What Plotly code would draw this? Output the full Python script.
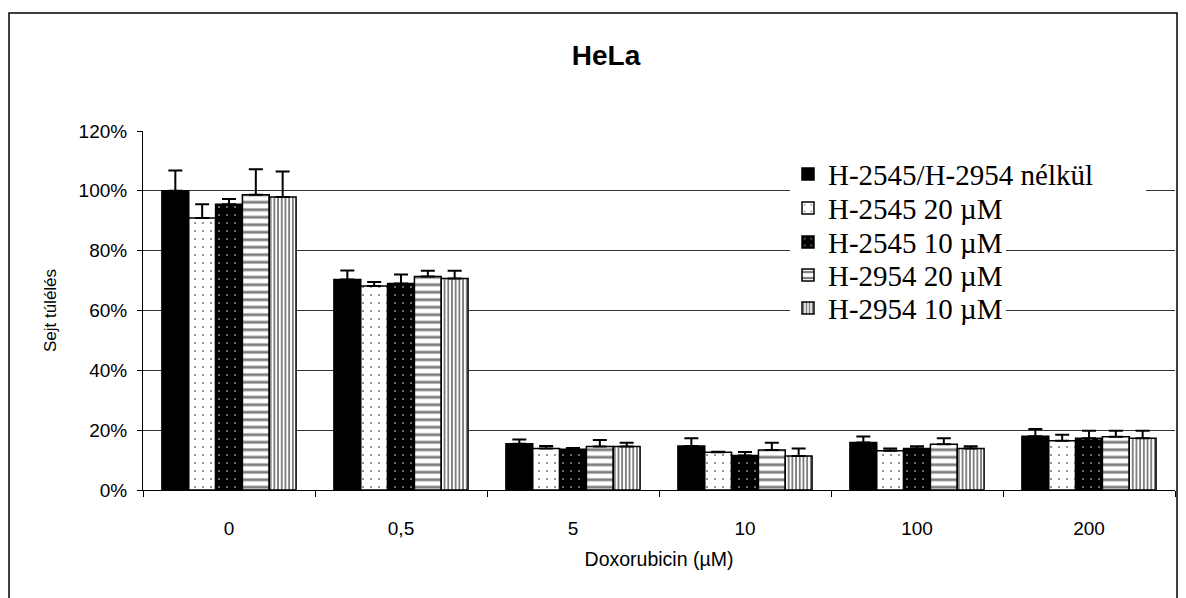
import plotly.graph_objects as go

categories = ["0", "0,5", "5", "10", "100", "200"]

series_names = [
    "H-2545/H-2954 nélkül",
    "H-2545 20 µM",
    "H-2545 10 µM",
    "H-2954 20 µM",
    "H-2954 10 µM",
]

s_none = [100.0, 70.4, 15.5, 14.7, 15.9, 18.0]
s_2545_20 = [90.9, 68.2, 13.9, 12.6, 13.1, 16.5]
s_2545_10 = [95.5, 69.0, 13.6, 11.5, 13.9, 17.3]
s_2954_20 = [98.7, 71.4, 14.5, 13.4, 15.3, 17.8]
s_2954_10 = [97.9, 70.7, 14.5, 11.4, 13.9, 17.3]

e_none = [6.8, 3.0, 1.4, 2.6, 2.0, 2.4]
e_2545_20 = [4.6, 1.3, 0.8, 0.2, 0.8, 2.0]
e_2545_10 = [1.8, 3.0, 0.4, 1.2, 0.7, 2.5]
e_2954_20 = [8.5, 1.9, 2.2, 2.4, 2.0, 2.0]
e_2954_10 = [8.6, 2.6, 1.3, 2.5, 0.7, 2.5]

values = [s_none, s_2545_20, s_2545_10, s_2954_20, s_2954_10]
errors = [e_none, e_2545_20, e_2545_10, e_2954_20, e_2954_10]

patterns = [
    dict(shape=""),
    dict(shape=".", fgcolor="black", bgcolor="white", size=8, solidity=0.06),
    dict(shape=".", fgcolor="white", bgcolor="black", size=8, solidity=0.06),
    dict(shape="-", fgcolor="black", bgcolor="white", size=7.5, solidity=0.38),
    dict(shape="|", fgcolor="black", bgcolor="white", size=3.7, solidity=0.5),
]
colors = ["black", "white", "black", "white", "white"]
legend_ids = ["legend", "legend2", "legend3", "legend4", "legend5"]

# page offset (browser body margin) compensation
OFF = 8
W, H = 1186 - OFF, 598 - OFF
L, T = 143 - OFF, 131 - OFF
pw, ph = 1032, 359
R = W - L - pw
B = H - T - ph


def px_x(X):
    return (X - OFF - L) / pw


def px_y(Y):
    return (T + ph - (Y - OFF)) / ph


fig = go.Figure()
for name, v, e, pat, col, lg in zip(series_names, values, errors, patterns, colors, legend_ids):
    fig.add_trace(go.Bar(
        x=categories, y=v, name=name, legend=lg,
        marker=dict(color=col, pattern=pat, line=dict(color="black", width=1.5)),
        error_y=dict(type="data", symmetric=False, array=e, arrayminus=[0] * len(e),
                     color="black", thickness=2, width=7),
    ))

leg_font = dict(family="Liberation Serif, Times New Roman", size=29, color="black")
row_centers = [174, 208, 242, 275, 308]
leg_layout = {}
for lg, yc in zip(legend_ids, row_centers):
    leg_layout[lg] = dict(x=px_x(788), xanchor="left", y=px_y(yc - 25.3), yanchor="top",
                          bgcolor="rgba(0,0,0,0)", borderwidth=0, font=leg_font)

fig.update_layout(
    width=W, height=H,
    margin=dict(l=L, r=R, t=T, b=B),
    paper_bgcolor="white", plot_bgcolor="white",
    barmode="group", bargap=0.22, bargroupgap=0,
    font=dict(family="Liberation Sans, Arial", color="black", size=19),
    title=dict(text="<b>HeLa</b>", x=(606 - OFF) / W, xanchor="center",
               y=1 - (55 - OFF) / H, yanchor="middle",
               font=dict(size=28, family="Liberation Sans, Arial", color="black")),
    showlegend=True,
    **leg_layout,
)

fig.update_xaxes(
    type="category",
    showline=True, linecolor="black", linewidth=1,
    ticks="outside", tickson="boundaries", ticklen=6, tickcolor="black",
    tickfont=dict(size=19), ticklabelstandoff=21,
    title=dict(text="Doxorubicin (µM)", font=dict(size=19.5), standoff=14),
    showgrid=False,
)
fig.update_yaxes(
    range=[0, 120], dtick=20, ticksuffix="%",
    showline=True, linecolor="black", linewidth=1,
    ticks="outside", ticklen=5, tickcolor="black",
    tickfont=dict(size=19), ticklabelstandoff=6,
    showgrid=True, gridcolor="#333333", gridwidth=1,
    zeroline=False,
    title=dict(text="Sejt túlélés", font=dict(size=17), standoff=17),
)

# white backing behind the legend entries (hides gridlines under the text)
fig.add_shape(type="rect", xref="paper", yref="paper",
              x0=px_x(790), x1=px_x(1146), y0=px_y(193), y1=px_y(158),
              line=dict(width=0), fillcolor="white", layer="above")
fig.add_shape(type="rect", xref="paper", yref="paper",
              x0=px_x(790), x1=px_x(1006), y0=px_y(324), y1=px_y(193),
              line=dict(width=0), fillcolor="white", layer="above")

# outer chart border (bottom edge lies outside the visible page)
fig.add_shape(type="rect", xref="paper", yref="paper",
              x0=px_x(9), x1=px_x(1177), y0=px_y(606), y1=px_y(13),
              line=dict(color="black", width=1.5), fillcolor="rgba(0,0,0,0)", layer="below")

fig.write_html("out.html")
